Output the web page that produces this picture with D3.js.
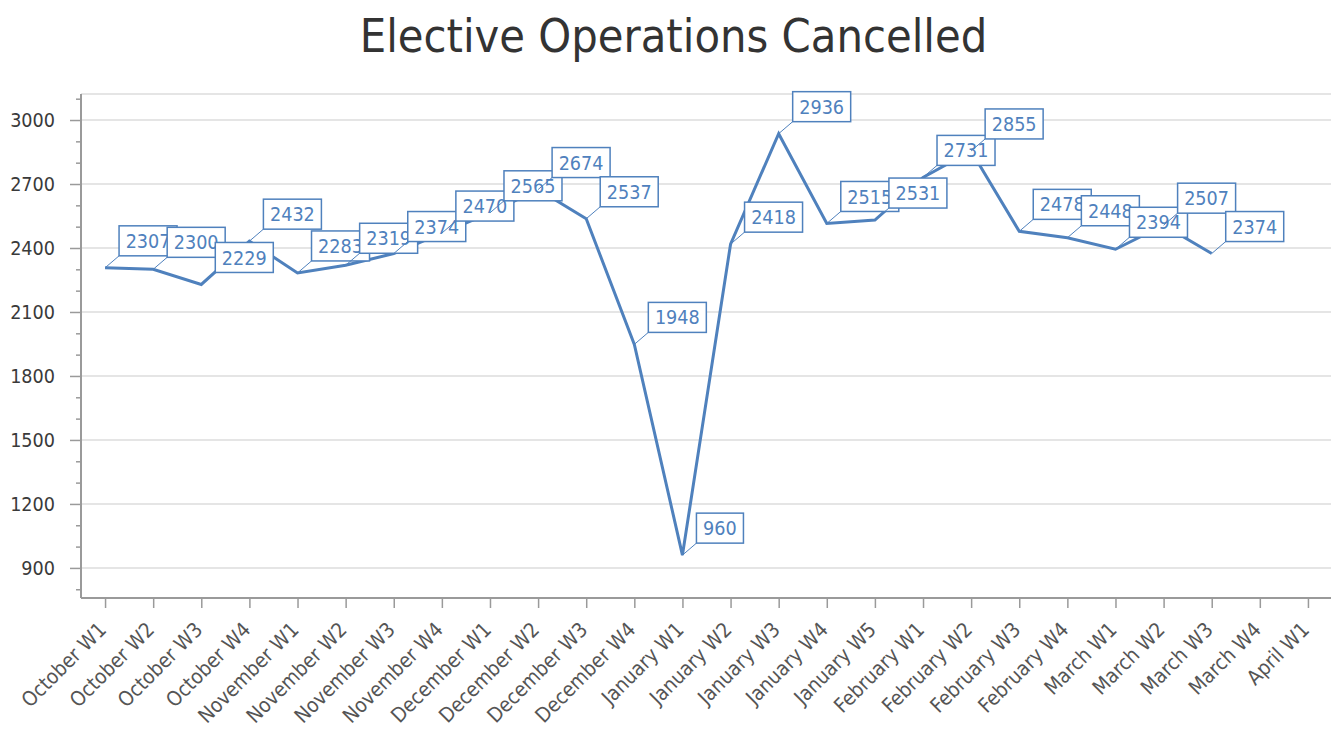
<!DOCTYPE html>
<html>
<head>
<meta charset="utf-8">
<script src="https://cdn.jsdelivr.net/npm/d3@7"></script>
<style>
  html, body { margin: 0; padding: 0; background: #fff; }
  svg { display: block; }
  text { font-family: "DejaVu Sans Condensed", "DejaVu Sans", sans-serif; font-stretch: condensed; }
</style>
</head>
<body>
<svg id="chart" width="1331" height="731"></svg>
<script>
const title = "Elective Operations Cancelled";
const categories = [
  "October W1", "October W2", "October W3", "October W4",
  "November W1", "November W2", "November W3", "November W4",
  "December W1", "December W2", "December W3", "December W4",
  "January W1", "January W2", "January W3", "January W4", "January W5",
  "February W1", "February W2", "February W3", "February W4",
  "March W1", "March W2", "March W3", "March W4",
  "April W1"
];
const values = [
  2307, 2300, 2229, 2432,
  2283, 2319, 2374, 2470,
  2565, 2674, 2537, 1948,
  960, 2418, 2936, 2515, 2531,
  2731, 2855, 2478, 2448,
  2394, 2507, 2374, null,
  null
];
const yMajorTicks = [900, 1200, 1500, 1800, 2100, 2400, 2700, 3000];
const yMinorTicks = [800, 1000, 1100, 1300, 1400, 1600, 1700, 1900, 2000, 2200, 2300, 2500, 2600, 2800, 2900, 3100];
const yDomain = [759, 3122];

const W = 1331, H = 731;
const plot = { left: 81, right: 1332, top: 94, bottom: 598 };
const lineColor = "#4f81bd";
const fontSize = 19.6;

const svg = d3.select("#chart");

const x = d3.scalePoint().domain(categories).range([plot.left, plot.right]).padding(0.5);
const y = d3.scaleLinear().domain(yDomain).range([plot.bottom, plot.top]);

// Title
svg.append("text")
  .attr("x", 673.5).attr("y", 52)
  .attr("text-anchor", "middle")
  .style("font-size", "46.5px")
  .attr("fill", "#333333")
  .text(title);

// top border
svg.append("line")
  .attr("x1", plot.left).attr("x2", W)
  .attr("y1", plot.top).attr("y2", plot.top)
  .attr("stroke", "#dcdcdc").attr("stroke-width", 1.5);

// gridlines
svg.append("g").selectAll("line").data(yMajorTicks).join("line")
  .attr("x1", plot.left).attr("x2", W)
  .attr("y1", d => y(d)).attr("y2", d => y(d))
  .attr("stroke", "#dcdcdc").attr("stroke-width", 1.5);

// Y axis (major)
const yAxis = svg.append("g")
  .attr("transform", `translate(${plot.left},0)`)
  .call(d3.axisLeft(y).tickValues(yMajorTicks).tickSize(11).tickPadding(15).tickFormat(d3.format("d")));
yAxis.select(".domain").attr("stroke", "#9a9a9a").attr("stroke-width", 2)
  .attr("d", `M0,${plot.top}V${plot.bottom}`);
yAxis.selectAll(".tick line").attr("stroke", "#9a9a9a").attr("stroke-width", 1.5);
yAxis.selectAll(".tick text").attr("fill", "#3a3a3a").style("font-size", fontSize + "px")
  .attr("font-family", null);

// Y axis (minor)
const yMinor = svg.append("g")
  .attr("transform", `translate(${plot.left},0)`)
  .call(d3.axisLeft(y).tickValues(yMinorTicks).tickSize(5).tickFormat(""));
yMinor.select(".domain").remove();
yMinor.selectAll(".tick line").attr("stroke", "#9a9a9a").attr("stroke-width", 1.5);

// X axis
const xAxis = svg.append("g")
  .attr("transform", `translate(0,${plot.bottom})`)
  .call(d3.axisBottom(x).tickSize(10).tickPadding(6));
xAxis.select(".domain").attr("stroke", "#9a9a9a").attr("stroke-width", 2)
  .attr("d", `M${plot.left},0H${W}`);
xAxis.selectAll(".tick line").attr("stroke", "#9a9a9a").attr("stroke-width", 1.5);
xAxis.selectAll(".tick text")
  .attr("fill", "#555555")
  .style("font-size", "20.5px")
  .attr("font-family", null)
  .attr("text-anchor", "end")
  .attr("x", 0).attr("y", 0).attr("dy", null)
  .attr("transform", "translate(2,33) rotate(-45)");

// Line
const pts = categories.map((c, i) => ({ c, v: values[i] }));
const line = d3.line()
  .defined(d => d.v != null)
  .x(d => x(d.c)).y(d => y(d.v));
svg.append("path")
  .datum(pts)
  .attr("d", line)
  .attr("fill", "none")
  .attr("stroke", lineColor)
  .attr("stroke-width", 3)
  .attr("stroke-linejoin", "miter");

// Labels
const labels = svg.append("g");
pts.filter(d => d.v != null).forEach(d => {
  const px = x(d.c), py = y(d.v);
  const bx = px + 14, by = py - 12;
  const g = labels.append("g");
  g.append("line")
    .attr("x1", px).attr("y1", py).attr("x2", bx).attr("y2", by)
    .attr("stroke", lineColor).attr("stroke-width", 1);
  const rect = g.append("rect");
  const t = g.append("text")
    .attr("fill", lineColor)
    .style("font-size", fontSize + "px")
    .text(d.v);
  const tw = t.node().getComputedTextLength();
  const bw = Math.round(tw + 13), bh = 30;
  rect.attr("x", bx).attr("y", by - bh).attr("width", bw).attr("height", bh)
    .attr("fill", "#fff").attr("stroke", lineColor).attr("stroke-width", 1.5);
  t.attr("x", bx + bw / 2).attr("y", by - bh / 2).attr("dy", "0.36em").attr("text-anchor", "middle");
});
</script>
</body>
</html>
